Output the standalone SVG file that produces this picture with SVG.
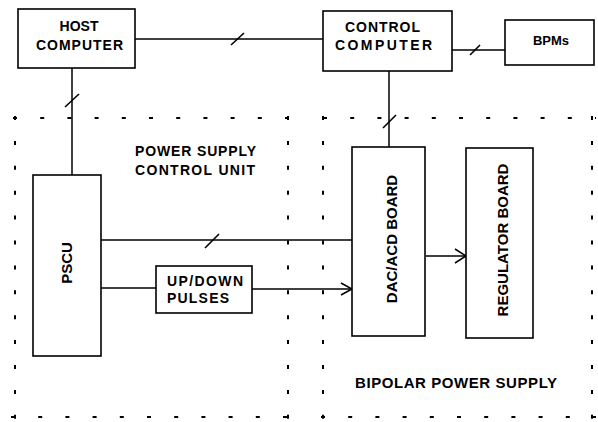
<svg xmlns="http://www.w3.org/2000/svg" width="598" height="422" viewBox="0 0 598 422">
<style>
.box{fill:#fff;stroke:#000;stroke-width:1.6}
.ln{fill:none;stroke:#000;stroke-width:1.5}
.sl{fill:none;stroke:#000;stroke-width:1.6}
.ah{fill:none;stroke:#000;stroke-width:1.5}
.dh{fill:none;stroke:#000;stroke-width:2;stroke-dasharray:4 23.2}
.dv{fill:none;stroke:#000;stroke-width:2;stroke-dasharray:4 20.9}
text{font-family:"Liberation Sans",Arial,Helvetica,sans-serif;font-weight:bold;fill:#000}
.t14{font-size:14px}
.t15{font-size:15px}
.t13{font-size:13px}
</style>
<rect width="598" height="422" fill="#fff"/>
<g id="psu-control-unit">
<line class="dh" x1="13" y1="118" x2="290" y2="118"/>
<line class="dh" x1="11" y1="417" x2="290" y2="417"/>
<line class="dv" x1="15" y1="116" x2="15" y2="420"/>
<line class="dv" x1="288" y1="116" x2="288" y2="420"/>
<text class="t14" x="135" y="156" textLength="121" lengthAdjust="spacing">POWER SUPPLY</text>
<text class="t14" x="135" y="175" textLength="120" lengthAdjust="spacing">CONTROL UNIT</text>
</g>
<g id="bipolar-power-supply">
<line class="dh" x1="323" y1="118" x2="596" y2="118"/>
<line class="dh" x1="321" y1="417" x2="596" y2="417"/>
<line class="dv" x1="323" y1="116" x2="323" y2="420"/>
<line class="dv" x1="592" y1="116" x2="592" y2="420"/>
<text class="t15" x="355" y="388" textLength="202" lengthAdjust="spacing">BIPOLAR POWER SUPPLY</text>
</g>
<g id="connectors">
<line class="ln" x1="135" y1="39" x2="323" y2="39"/>
<line class="sl" x1="231" y1="45" x2="244" y2="33"/>
<line class="ln" x1="452" y1="50" x2="505" y2="50"/>
<line class="sl" x1="470" y1="55" x2="480" y2="45"/>
<line class="ln" x1="389" y1="71" x2="389" y2="147"/>
<line class="sl" x1="383" y1="128" x2="396" y2="115"/>
<line class="ln" x1="72" y1="68" x2="72" y2="175"/>
<line class="sl" x1="65" y1="107" x2="79" y2="94"/>
<line class="ln" x1="101" y1="240" x2="353" y2="240"/>
<line class="sl" x1="205" y1="248" x2="219" y2="234"/>
<line class="ln" x1="101" y1="288" x2="156" y2="288"/>
<line class="ln" x1="252" y1="289" x2="352" y2="289"/>
<polyline class="ah" points="341,283 352,289 341,295"/>
<line class="ln" x1="426" y1="256" x2="466" y2="256"/>
<polyline class="ah" points="455,249 466,256 455,263"/>
</g>
<g id="host-computer">
<rect class="box" x="18" y="9" width="117" height="59"/>
<text class="t14" x="79" y="31" text-anchor="middle">HOST</text>
<text class="t14" x="36" y="50" textLength="87" lengthAdjust="spacing">COMPUTER</text>
</g>
<g id="control-computer">
<rect class="box" x="323" y="11" width="129" height="60"/>
<text class="t14" x="345" y="32" textLength="75" lengthAdjust="spacing">CONTROL</text>
<text class="t14" x="335" y="50" textLength="97" lengthAdjust="spacing">COMPUTER</text>
</g>
<g id="bpms">
<rect class="box" x="505" y="20" width="89" height="45"/>
<text class="t13" x="551" y="45" text-anchor="middle">BPMs</text>
</g>
<g id="pscu">
<rect class="box" x="33" y="175" width="68" height="181"/>
<text class="t15" transform="translate(72,263) rotate(-90)" text-anchor="middle">PSCU</text>
</g>
<g id="up-down-pulses">
<rect class="box" x="156" y="266" width="96" height="47"/>
<text class="t14" x="167" y="286" textLength="76" lengthAdjust="spacing">UP/DOWN</text>
<text class="t14" x="167" y="303" textLength="62" lengthAdjust="spacing">PULSES</text>
</g>
<g id="dac-acd-board">
<rect class="box" x="352" y="147" width="73" height="189"/>
<text class="t15" transform="translate(397,239) rotate(-90)" text-anchor="middle">DAC/ACD BOARD</text>
</g>
<g id="regulator-board">
<rect class="box" x="466" y="148" width="67" height="190"/>
<text class="t15" transform="translate(508,240) rotate(-90)" text-anchor="middle">REGULATOR BOARD</text>
</g>
</svg>
